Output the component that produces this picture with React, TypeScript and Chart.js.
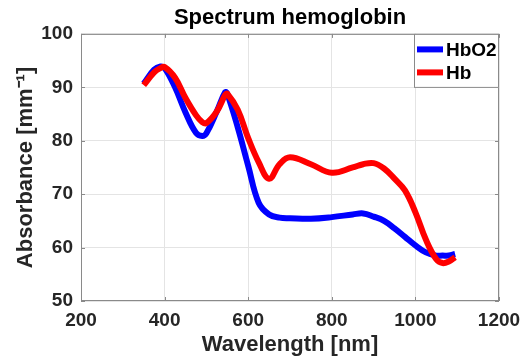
import React, { useEffect, useRef } from "react";
import { Chart, registerables } from "chart.js";

Chart.register(...registerables);

const wavelengths = [350, 375, 390, 400, 425, 450, 475, 490, 500, 525, 545, 550, 575, 600, 625, 650, 675, 700, 750, 800, 850, 875, 900, 925, 950, 975, 1000, 1025, 1050, 1065, 1080, 1095];
const hbo2Values = [90.7, 93.3, 93.9, 93.6, 90.0, 85.3, 81.5, 80.9, 81.4, 85.5, 89.1, 88.8, 82.5, 75.3, 68.4, 66.2, 65.6, 65.5, 65.4, 65.7, 66.2, 66.4, 65.8, 65.0, 63.6, 62.0, 60.4, 59.1, 58.5, 58.5, 58.5, 58.8];
const hbValues = [90.4, 92.8, 93.6, 93.8, 91.8, 88.0, 84.8, 83.5, 83.3, 85.5, 88.6, 88.8, 85.8, 80.5, 76.0, 72.9, 75.6, 76.9, 75.6, 74.0, 75.0, 75.6, 75.8, 74.8, 72.9, 70.7, 66.6, 61.5, 57.8, 57.1, 57.4, 58.2];
const seriesLabels = ["HbO2", "Hb"];
const seriesColors = ["#0000ff", "#ff0000"];
const xMin = 200;
const xMax = 1200;
const xStep = 200;
const yMin = 50;
const yMax = 100;
const yStep = 10;
const titleText = "Spectrum hemoglobin";
const xAxisLabel = "Wavelength [nm]";
const yAxisLabel = "Absorbance [mm\u207B\u00B9]";

const FONT = "'Liberation Sans', Arial, Helvetica, sans-serif";
const AXIS_GRAY = "#8a8a8a";
const TEXT_DARK = "#262626";

export default function App() {
  const ref = useRef<HTMLCanvasElement | null>(null);

  useEffect(() => {
    const canvas = ref.current;
    if (!canvas) return;

    const boxPlugin = {
      id: "matlabBox",
      afterDatasetsDraw(chart: any) {
        const { ctx, chartArea } = chart;
        const { left, right, top, bottom } = chartArea;
        ctx.save();
        ctx.strokeStyle = AXIS_GRAY;
        ctx.lineWidth = 1;
        ctx.strokeRect(left + 0.5, top + 0.5, right - left - 1, bottom - top - 1);
        const tl = 4;
        const xs = chart.scales.x;
        xs.ticks.forEach((t: any) => {
          const px = Math.round(xs.getPixelForValue(t.value)) + 0.5;
          ctx.beginPath();
          ctx.moveTo(px, bottom);
          ctx.lineTo(px, bottom - tl);
          ctx.moveTo(px, top);
          ctx.lineTo(px, top + tl);
          ctx.stroke();
        });
        const ys = chart.scales.y;
        ys.ticks.forEach((t: any) => {
          const py = Math.round(ys.getPixelForValue(t.value)) + 0.5;
          ctx.beginPath();
          ctx.moveTo(left, py);
          ctx.lineTo(left + tl, py);
          ctx.moveTo(right, py);
          ctx.lineTo(right - tl, py);
          ctx.stroke();
        });
        ctx.restore();
      },
      afterDraw(chart: any) {
        const { ctx, chartArea } = chart;
        const boxW = 85;
        const boxH = 54;
        const x0 = chartArea.right - boxW;
        const y0 = chartArea.top;
        ctx.save();
        ctx.fillStyle = "#ffffff";
        ctx.fillRect(x0, y0, boxW, boxH);
        ctx.strokeStyle = AXIS_GRAY;
        ctx.lineWidth = 1;
        ctx.strokeRect(x0 + 0.5, y0 + 0.5, boxW - 1, boxH - 1);
        chart.data.datasets.forEach((ds: any, i: number) => {
          const cy = y0 + 15.5 + i * 23;
          ctx.strokeStyle = ds.borderColor;
          ctx.lineWidth = 6;
          ctx.lineCap = "butt";
          ctx.beginPath();
          ctx.moveTo(x0 + 3, cy);
          ctx.lineTo(x0 + 29, cy);
          ctx.stroke();
          ctx.fillStyle = "#000000";
          ctx.font = `bold 19px ${FONT}`;
          ctx.textBaseline = "middle";
          ctx.textAlign = "left";
          ctx.fillText(ds.label, x0 + 32, cy + 1);
        });
        ctx.restore();
      },
    };

    const chart = new Chart(canvas, {
      type: "line",
      data: {
        datasets: [
          {
            label: seriesLabels[0],
            data: wavelengths.map((w, i) => ({ x: w, y: hbo2Values[i] })),
            borderColor: seriesColors[0],
            backgroundColor: seriesColors[0],
            borderWidth: 6,
            pointRadius: 0,
            tension: 0.4,
            fill: false,
            order: 1,
          },
          {
            label: seriesLabels[1],
            data: wavelengths.map((w, i) => ({ x: w, y: hbValues[i] })),
            borderColor: seriesColors[1],
            backgroundColor: seriesColors[1],
            borderWidth: 6,
            pointRadius: 0,
            tension: 0.4,
            fill: false,
            order: 0,
          },
        ],
      },
      options: {
        animation: false,
        responsive: false,
        devicePixelRatio: 1,
        layout: { padding: { left: 0, right: 25, top: 0, bottom: 0 } },
        plugins: {
          legend: { display: false },
          tooltip: { enabled: false },
          title: {
            display: true,
            text: titleText,
            fullSize: false,
            color: "#000000",
            font: { family: FONT, size: 22, weight: "bold" },
            padding: { top: 4.5, bottom: 3 },
          },
        },
        scales: {
          x: {
            type: "linear",
            min: xMin,
            max: xMax,
            ticks: {
              stepSize: xStep,
              color: TEXT_DARK,
              font: { family: FONT, size: 19, weight: "bold" },
              padding: 8,
              maxRotation: 0,
              callback: (v: any) => String(v),
            },
            grid: { color: "#e4e4e4", drawTicks: false },
            border: { display: false },
            title: {
              display: true,
              text: xAxisLabel,
              color: TEXT_DARK,
              font: { family: FONT, size: 22, weight: "bold" },
              padding: { top: 0, bottom: 3 },
            },
            afterFit: (s: any) => {
              s.height = 60;
              s.paddingLeft = 0;
              s.paddingRight = 0;
            },
          },
          y: {
            type: "linear",
            min: yMin,
            max: yMax,
            ticks: {
              stepSize: yStep,
              color: TEXT_DARK,
              font: { family: FONT, size: 19, weight: "bold" },
              padding: 8,
              callback: (v: any) => String(v),
            },
            grid: { color: "#e4e4e4", drawTicks: false },
            border: { display: false },
            title: {
              display: true,
              text: yAxisLabel,
              color: TEXT_DARK,
              font: { family: FONT, size: 22, weight: "bold" },
              padding: { top: 13, bottom: 0 },
            },
            afterFit: (s: any) => {
              s.width = 81;
              s.paddingTop = 0;
              s.paddingBottom = 0;
            },
          },
        },
      },
      plugins: [boxPlugin],
    });

    return () => chart.destroy();
  }, []);

  return (
    <div style={{ position: "fixed", left: 0, top: 0, width: 524, height: 361, background: "#ffffff" }}>
      <canvas ref={ref} width={524} height={361} style={{ display: "block" }} />
    </div>
  );
}
